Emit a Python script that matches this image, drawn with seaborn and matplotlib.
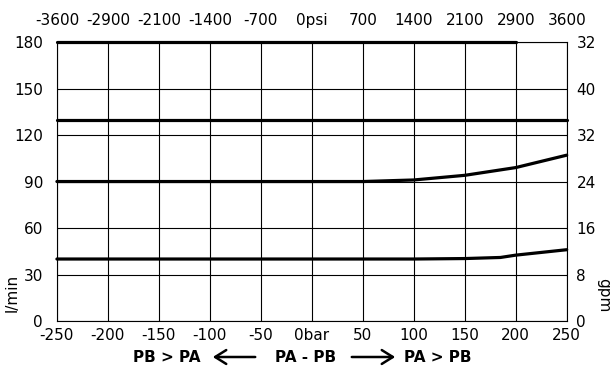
import pandas as pd
import matplotlib
matplotlib.use("Agg")
import matplotlib.pyplot as plt
import seaborn as sns

# data
pressure_bar = [-250, -200, -150, -100, -50, 0, 50, 100, 150, 200, 250]
flow_130 = [130, 130, 130, 130, 130, 130, 130, 130, 130, 130, 130]
flow_90 = [90, 90, 90, 90, 90, 90, 90, 91, 94, 99, 107]
pressure_low = [-250, -200, -150, -100, -50, 0, 50, 100, 150, 185, 200, 250]
flow_40 = [40, 40, 40, 40, 40, 40, 40, 40, 40.3, 41, 42.5, 46]
pressure_top = [-250, -200, -150, -100, -50, 0, 50, 100, 150, 200]
flow_180 = [180, 180, 180, 180, 180, 180, 180, 180, 180, 180]

bar_labels = ["-250", "-200", "-150", "-100", "-50", "0bar", "50", "100", "150", "200", "250"]
psi_labels = ["-3600", "-2900", "-2100", "-1400", "-700", "0psi", "700", "1400", "2100", "2900", "3600"]
lmin_ticks = [0, 30, 60, 90, 120, 150, 180]
gpm_labels = ["0", "8", "16", "24", "32", "40", "32"]

df = pd.concat([
    pd.DataFrame({"bar": pressure_bar, "flow": flow_130, "curve": "130"}),
    pd.DataFrame({"bar": pressure_bar, "flow": flow_90, "curve": "90"}),
    pd.DataFrame({"bar": pressure_low, "flow": flow_40, "curve": "40"}),
    pd.DataFrame({"bar": pressure_top, "flow": flow_180, "curve": "180"}),
])

sns.set_style("white")
plt.rcParams["font.family"] = ["DejaVu Sans"]
plt.rcParams["axes.unicode_minus"] = False
plt.rcParams["text.color"] = "black"
plt.rcParams["xtick.color"] = "black"
plt.rcParams["ytick.color"] = "black"
plt.rcParams["axes.labelcolor"] = "black"

fig = plt.figure(figsize=(6.12, 3.70), dpi=100)
ax = fig.add_axes([0.093, 0.1324, 0.833, 0.754])

sns.lineplot(data=df, x="bar", y="flow", hue="curve", palette=["black"] * 4,
             linewidth=2.3, legend=False, ax=ax, clip_on=False)

ax.set_xlim(-250, 250)
ax.set_ylim(0, 180)
ax.set_xticks(pressure_bar)
ax.set_xticklabels(bar_labels, fontsize=11)
ax.set_yticks(lmin_ticks)
ax.set_yticklabels([str(v) for v in lmin_ticks], fontsize=11)
ax.set_xlabel("")
ax.set_ylabel("")
ax.tick_params(axis="x", length=0, pad=5)
ax.tick_params(axis="y", length=0, pad=10)
ax.grid(True, color="black", linewidth=0.8)
for s in ax.spines.values():
    s.set_color("black")
    s.set_linewidth(0.8)

top = ax.secondary_xaxis("top")
top.set_xticks(pressure_bar)
top.set_xticklabels(psi_labels, fontsize=11)
top.tick_params(length=0, pad=10)
top.spines["top"].set_visible(False)

right = ax.twinx()
right.set_ylim(0, 180)
right.set_yticks(lmin_ticks)
right.set_yticklabels(gpm_labels, fontsize=11)
right.tick_params(length=0, pad=7)
for s in right.spines.values():
    s.set_visible(False)

# axis unit labels
fig.text(12 / 612, 1 - 293 / 370, "l/min", fontsize=11, rotation=90, ha="center", va="center")
fig.text(604 / 612, 1 - 295 / 370, "gpm", fontsize=11, rotation=-90, ha="center", va="center")

# bottom direction legend
fig.text(167 / 612, 1 - 358 / 370, "PB > PA", fontsize=11, fontweight="bold", ha="center", va="center")
fig.text(306 / 612, 1 - 358 / 370, "PA - PB", fontsize=11, fontweight="bold", ha="center", va="center")
fig.text(438 / 612, 1 - 358 / 370, "PA > PB", fontsize=11, fontweight="bold", ha="center", va="center")
fig.add_artist(matplotlib.patches.FancyArrowPatch((258 / 612, 1 - 357 / 370), (210 / 612, 1 - 357 / 370),
                                                 transform=fig.transFigure, arrowstyle="->,head_length=8,head_width=5",
                                                 color="black", linewidth=1.8))
fig.add_artist(matplotlib.patches.FancyArrowPatch((349 / 612, 1 - 357 / 370), (398 / 612, 1 - 357 / 370),
                                                 transform=fig.transFigure, arrowstyle="->,head_length=8,head_width=5",
                                                 color="black", linewidth=1.8))

fig.savefig("out.png", dpi=100)
plt.close()
